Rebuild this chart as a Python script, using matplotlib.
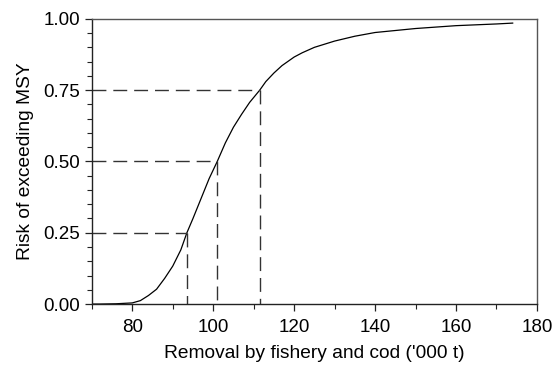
import matplotlib
matplotlib.use("Agg")
import matplotlib.pyplot as plt
from matplotlib.ticker import MultipleLocator

# curve
removal = [70, 72, 76, 80, 82, 84, 86, 88, 90, 92, 93.5, 95, 97, 99, 101,
           103, 105, 107, 109, 111.5, 113, 115, 117, 120, 122, 125, 130, 135,
           140, 150, 160, 170, 174]
risk = [0.0, 0.0, 0.001, 0.004, 0.012, 0.03, 0.052, 0.09, 0.133, 0.19, 0.25,
        0.3, 0.37, 0.44, 0.5, 0.565, 0.62, 0.665, 0.707, 0.75, 0.78, 0.81,
        0.836, 0.866, 0.881, 0.9, 0.922, 0.939, 0.952, 0.966, 0.976, 0.982,
        0.985]

# quantile markers
q_risk = [0.25, 0.50, 0.75]
q_removal = [93.5, 101, 111.5]

plt.rcParams['font.family'] = ['Liberation Sans', 'DejaVu Sans']

fig = plt.figure(figsize=(5.53, 3.69), dpi=100)
ax = fig.add_axes([0.166, 0.176, 0.805, 0.773])

ax.plot(removal, risk, color='black', lw=0.9)

for xq, yq in zip(q_removal, q_risk):
    ax.plot([70, xq], [yq, yq], color='#333333', lw=1.0, dashes=(10, 5))
    ax.plot([xq, xq], [yq, 0], color='#333333', lw=1.0, dashes=(10, 5))

ax.set_xlim(70, 180)
ax.set_ylim(0, 1)
ax.xaxis.set_major_locator(MultipleLocator(20))
ax.xaxis.set_minor_locator(MultipleLocator(10))
ax.yaxis.set_major_locator(MultipleLocator(0.25))
ax.yaxis.set_minor_locator(MultipleLocator(0.05))
ax.yaxis.set_major_formatter(plt.FormatStrFormatter('%.2f'))

ax.tick_params(which='major', direction='out', length=5, width=0.9,
               labelsize=13.5, colors='#222222', labelcolor='black')
ax.tick_params(axis='x', which='major', pad=6)
ax.tick_params(which='minor', direction='out', length=3.5, width=0.8,
               colors='#222222')

for side in ['top', 'right']:
    ax.spines[side].set_color('#555555')
    ax.spines[side].set_linewidth(1.0)
for side in ['left', 'bottom']:
    ax.spines[side].set_color('#222222')
    ax.spines[side].set_linewidth(1.0)

ax.set_xlabel("Removal by fishery and cod ('000 t)", fontsize=13.8, labelpad=6)
ax.set_ylabel("Risk of exceeding MSY", fontsize=13.8, labelpad=7)

fig.savefig('out.png', dpi=100)
